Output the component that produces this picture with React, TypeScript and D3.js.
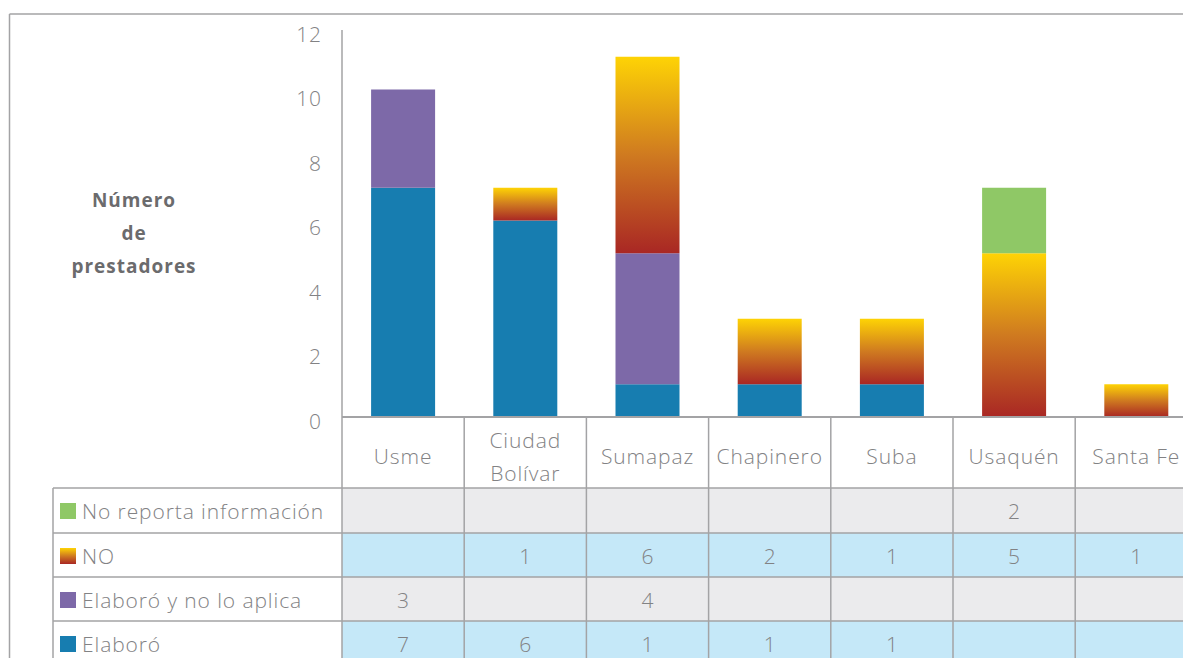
import React from "react";
import * as d3 from "d3";

const categories = ["Usme", "Ciudad Bolívar", "Sumapaz", "Chapinero", "Suba", "Usaquén", "Santa Fe"];
const categoryLines = [["Usme"], ["Ciudad", "Bolívar"], ["Sumapaz"], ["Chapinero"], ["Suba"], ["Usaquén"], ["Santa Fe"]];
const elaboro = [7, 6, 1, 1, 1, 0, 0];
const elaboroNoAplica = [3, 0, 4, 0, 0, 0, 0];
const noBars = [0, 1, 6, 2, 2, 5, 1];
const noTable = [0, 1, 6, 2, 1, 5, 1];
const noReporta = [0, 0, 0, 0, 0, 2, 0];
const yTicks = [0, 2, 4, 6, 8, 10, 12];

const seriesNames = ["No reporta información", "NO", "Elaboró y no lo aplica", "Elaboró"];
const COLORS = { elaboro: "#177DB0", noAplica: "#7D69A8", noReporta: "#8FC866" };

const W = 1183;
const H = 658;
const FONT = "'Open Sans', sans-serif";
const GRID = "#a3a3a5";
const TXT = "#828284";
const FS = 21;
const LS = 0.9;

export default function App() {
  const x = d3.scaleBand<string>().domain(categories).range([342, 342 + 7 * 122.2]).padding(0);
  const y = d3.scaleLinear().domain([0, 12]).range([417, 24]);
  const yLabel = d3.scaleLinear().domain([0, 12]).range([420.5, 33.5]);
  const barW = 64;
  const bw = x.bandwidth();

  const rows = [
    { name: seriesNames[0], vals: noReporta, fill: "#EBEBED", sw: COLORS.noReporta },
    { name: seriesNames[1], vals: noTable, fill: "#C5E8F8", sw: "url(#noGradSw)" },
    { name: seriesNames[2], vals: elaboroNoAplica, fill: "#EBEBED", sw: COLORS.noAplica },
    { name: seriesNames[3], vals: elaboro, fill: "#C5E8F8", sw: COLORS.elaboro },
  ];
  const rowTops = [488, 533, 577, 621];
  const rowBottoms = [533, 577, 621, 665];

  const stackKeys = [
    { vals: elaboro, fill: COLORS.elaboro },
    { vals: elaboroNoAplica, fill: COLORS.noAplica },
    { vals: noBars, fill: "url(#noGrad)" },
    { vals: noReporta, fill: COLORS.noReporta },
  ];

  const bars: React.ReactNode[] = [];
  categories.forEach((c, i) => {
    let base = 0;
    stackKeys.forEach((s, k) => {
      const v = s.vals[i];
      if (v > 0) {
        const y0 = y(base);
        const y1 = y(base + v);
        bars.push(
          <rect key={`${c}-${k}`} x={(x(c) as number) + bw / 2 - barW / 2} y={y1} width={barW} height={y0 - y1} fill={s.fill} />
        );
      }
      base += v;
    });
  });

  return (
    <svg width={W} height={H} style={{ position: "absolute", left: 0, top: 0, background: "#fff" }} fontFamily={FONT}>
      <defs>
        <linearGradient id="noGrad" x1="0" y1="0" x2="0" y2="1">
          <stop offset="0" stopColor="#FED305" />
          <stop offset="0.5" stopColor="#CF7A20" />
          <stop offset="1" stopColor="#A92724" />
        </linearGradient>
        <linearGradient id="noGradSw" x1="0" y1="0" x2="0" y2="1">
          <stop offset="0" stopColor="#FED305" />
          <stop offset="0.5" stopColor="#CF7A20" />
          <stop offset="1" stopColor="#A92724" />
        </linearGradient>
      </defs>
      <rect x={0} y={0} width={W} height={H} fill="#fff" />
      {/* outer frame */}
      <line x1={9.5} y1={14} x2={W} y2={14} stroke={GRID} strokeWidth={1.5} />
      <line x1={9.5} y1={14} x2={9.5} y2={H} stroke={GRID} strokeWidth={1.5} />

      {/* table fills */}
      {rows.map((r, ri) => (
        <rect key={`rf${ri}`} x={342} y={rowTops[ri]} width={W - 342} height={rowBottoms[ri] - rowTops[ri]} fill={r.fill} />
      ))}

      {/* bars */}
      {bars}

      {/* y axis ticks */}
      {yTicks.map((t) => (
        <text key={`t${t}`} x={322} y={yLabel(t)} textAnchor="end" dominantBaseline="central" fontSize={FS} fontWeight={300} fill={TXT} letterSpacing={LS}>
          {t}
        </text>
      ))}

      {/* axis title */}
      {["Número", "de", "prestadores"].map((s, i) => (
        <text key={`at${i}`} x={134} y={207 + i * 33} textAnchor="middle" fontSize={19} fontWeight={700} fill="#6b6b6d" letterSpacing={1}>
          {s}
        </text>
      ))}

      {/* grid lines */}
      <line x1={342} y1={30} x2={342} y2={H} stroke={GRID} strokeWidth={1.5} />
      <line x1={342} y1={417} x2={W} y2={417} stroke={GRID} strokeWidth={2} />
      {categories.map((c, i) =>
        i > 0 ? <line key={`v${i}`} x1={x(c) as number} y1={417} x2={x(c) as number} y2={H} stroke={GRID} strokeWidth={1.5} /> : null
      )}
      {rowTops.map((ty, i) => (
        <line key={`h${i}`} x1={53} y1={ty} x2={W} y2={ty} stroke={GRID} strokeWidth={1.5} />
      ))}
      <line x1={53} y1={488} x2={53} y2={H} stroke={GRID} strokeWidth={1.5} />

      {/* category labels */}
      {categories.map((c, i) => {
        const lines = categoryLines[i];
        const cx = (x(c) as number) + bw / 2;
        const cy = 456;
        return lines.map((ln, j) => (
          <text key={`c${i}-${j}`} x={cx} y={cy + (j - (lines.length - 1) / 2) * 33} textAnchor="middle" dominantBaseline="central" fontSize={FS} fontWeight={300} fill={TXT} letterSpacing={LS}>
            {ln}
          </text>
        ));
      })}

      {/* table rows */}
      {rows.map((r, ri) => {
        const cy = (rowTops[ri] + Math.min(rowBottoms[ri], rowTops[ri] + 44)) / 2 + 1;
        return (
          <g key={`r${ri}`}>
            <rect x={60} y={cy - 8} width={16} height={16} fill={r.sw} />
            <text x={82} y={cy} dominantBaseline="central" fontSize={FS} fontWeight={300} fill={TXT} letterSpacing={LS}>
              {r.name}
            </text>
            {categories.map((c, i) =>
              r.vals[i] > 0 ? (
                <text key={`rv${ri}-${i}`} x={(x(c) as number) + bw / 2} y={cy} textAnchor="middle" dominantBaseline="central" fontSize={FS} fontWeight={300} fill={TXT}>
                  {r.vals[i]}
                </text>
              ) : null
            )}
          </g>
        );
      })}
    </svg>
  );
}
